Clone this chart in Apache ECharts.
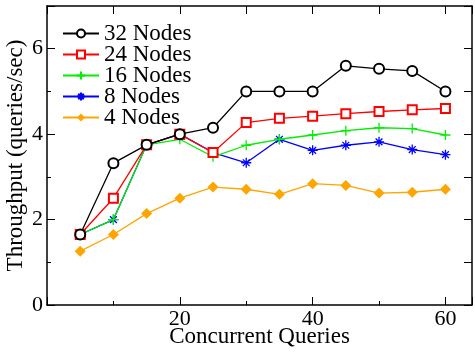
<!DOCTYPE html>
<html><head><meta charset="utf-8">
<script src="https://cdn.jsdelivr.net/npm/echarts@6/dist/echarts.min.js"></script>
<style>html,body{margin:0;padding:0;background:#fff}#c{width:475px;height:352px}</style>
</head><body><div id="c"></div>
<script>
const xs = [5,10,15,20,25,30,35,40,45,50,55,60];
const names = ['32 Nodes','24 Nodes','16 Nodes','8 Nodes','4 Nodes'];
const n32 = [1.65,3.32,3.75,4.0,4.15,5.0,5.0,5.0,5.6,5.53,5.48,5.0];
const n24 = [1.65,2.5,3.75,4.0,3.57,4.27,4.37,4.42,4.48,4.53,4.57,4.6];
const n16 = [1.65,2.0,3.75,3.88,3.47,3.74,3.88,3.98,4.08,4.15,4.13,3.98];
const n8  = [1.65,2.0,3.75,4.0,3.57,3.33,3.88,3.62,3.74,3.82,3.64,3.52];
const n4  = [1.26,1.65,2.14,2.5,2.76,2.71,2.59,2.84,2.8,2.62,2.64,2.71];
const xTickLabels = ['20','40','60'];
const yTickLabels = ['0','2','4','6'];

const font = 'Liberation Serif';
const colors = ['#000000','#ff0000','#00ee00','#0000ff','#ffa500'];
const symbols = ['emptyCircle','emptyRect',
  'path://M5,0L5,10M0,5L10,5',
  'path://M5,0L5,10M0,5L10,5M1.6,1.6L8.4,8.4M8.4,1.6L1.6,8.4',
  'diamond'];
const sizes = [10,9,10,10,11];
const vals = [n32,n24,n16,n8,n4];

const series = names.map((nm,i)=>({
  name: nm, type:'line', data: xs.map((x,j)=>[x, vals[i][j]]),
  symbol: symbols[i], symbolSize: sizes[i], showAllSymbol:true,
  z: 10 - i,
  lineStyle:{color:colors[i], width:1.3},
  itemStyle:(i===2||i===3)
    ? {color:'none', borderColor: colors[i], borderWidth: 1.3}
    : {color: colors[i], borderWidth: 1.3},
  emphasis:{disabled:true}, animation:false
}));

const chart = echarts.init(document.getElementById('c'), null, {renderer:'canvas'});
chart.setOption({
  backgroundColor:'#fff',
  animation:false,
  grid:{left:47, right:3, top:6, bottom:47, containLabel:false, outerBoundsMode:'none'},
  legend:{
    show:true, orient:'vertical', left:57, top:17,
    itemWidth:36, itemHeight:10, itemGap:-2,
    textStyle:{fontFamily:font, fontSize:23, color:'#000', lineHeight:20},
    data: names
  },
  xAxis:[{
    type:'value', min:0, max:64, interval:20, position:'bottom',
    name:'Concurrent Queries', nameLocation:'middle', nameGap:20, nameMoveOverlap:false,
    nameTextStyle:{fontFamily:font, fontSize:23, color:'#000'},
    axisLine:{show:true, onZero:false, lineStyle:{color:'#000', width:1.5}},
    axisTick:{show:true, inside:true, length:8, lineStyle:{color:'#000'}},
    minorTick:{show:true, splitNumber:2, length:4, lineStyle:{color:'#000'}},
    axisLabel:{fontFamily:font, fontSize:22, color:'#000', margin:3,
      showMaxLabel:false,
      formatter:v=> xTickLabels.includes(String(v)) ? String(v) : ''},
    splitLine:{show:false}
  },{
    type:'value', min:0, max:64, interval:10, position:'top',
    axisLine:{show:true, onZero:false, lineStyle:{color:'#000', width:1.5}},
    axisTick:{show:true, inside:true, length:8, lineStyle:{color:'#000'}},
    axisLabel:{show:false}, splitLine:{show:false}
  }],
  yAxis:[{
    type:'value', min:0, max:7, interval:2, position:'left',
    name:'Throughput (queries/sec)', nameLocation:'middle', nameGap:20, nameMoveOverlap:false,
    nameTextStyle:{fontFamily:font, fontSize:23, color:'#000'},
    axisLine:{show:true, onZero:false, lineStyle:{color:'#000', width:1.5}},
    axisTick:{show:true, inside:true, length:8, lineStyle:{color:'#000'}},
    minorTick:{show:true, splitNumber:2, length:4, lineStyle:{color:'#000'}},
    axisLabel:{fontFamily:font, fontSize:22, color:'#000', margin:4,
      formatter:v=> yTickLabels.includes(String(v)) ? String(v) : ''},
    splitLine:{show:false}
  },{
    type:'value', min:0, max:7, interval:1, position:'right',
    axisLine:{show:true, onZero:false, lineStyle:{color:'#000', width:1.5}},
    axisTick:{show:true, inside:true, length:8, lineStyle:{color:'#000'}},
    axisLabel:{show:false}, splitLine:{show:false}
  }],
  series: series
});
</script></body></html>
